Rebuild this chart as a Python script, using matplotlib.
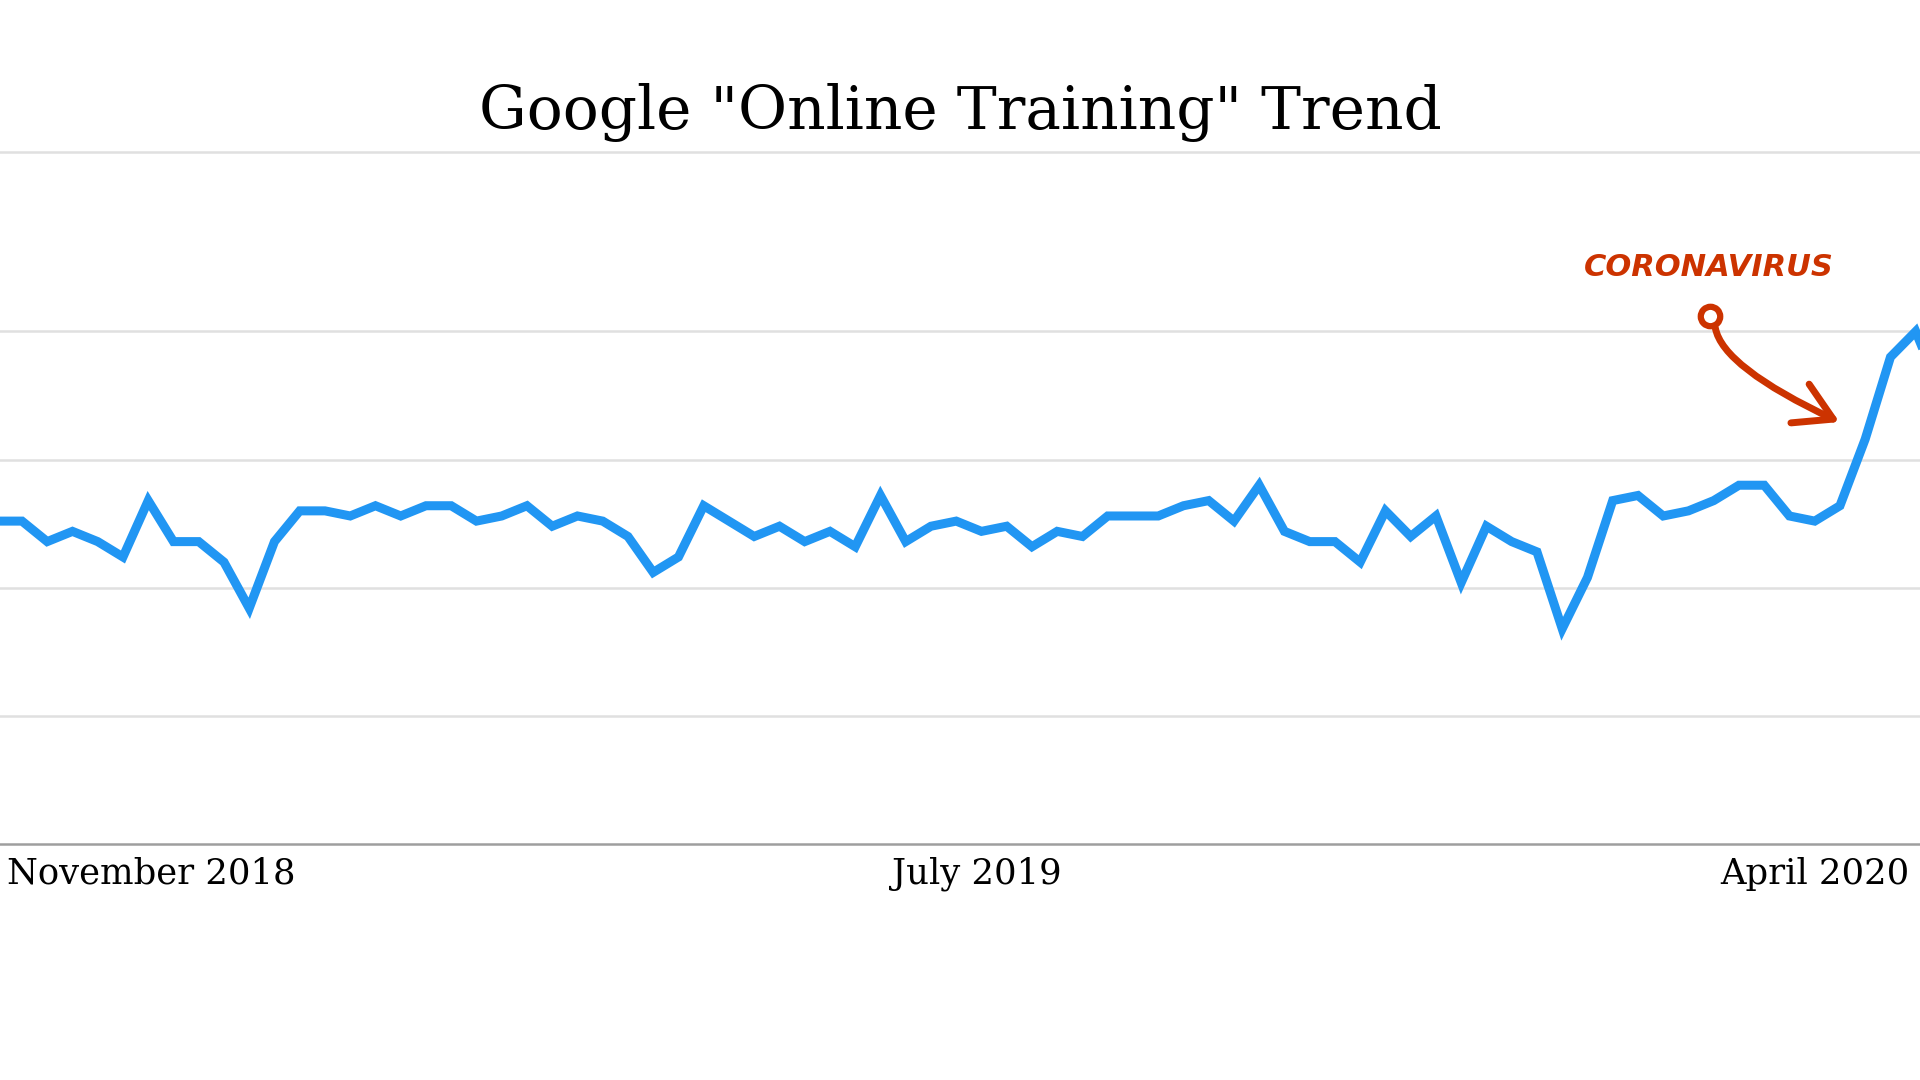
import numpy as np
import matplotlib
matplotlib.use("Agg")
import matplotlib.pyplot as plt
from matplotlib.patches import FancyArrowPatch

# weekly google trends values
weeks = list(range(78))
interest = [63, 63, 59, 61, 59, 56, 67, 59, 59, 55,
            46, 59, 65, 65, 64, 66, 64, 66, 66, 63,
            64, 66, 62, 64, 63, 60, 53, 56, 66, 63,
            60, 62, 59, 61, 58, 68, 59, 62, 63, 61,
            62, 58, 61, 60, 64, 64, 64, 66, 67, 63,
            70, 61, 59, 59, 55, 65, 60, 64, 51, 62,
            59, 57, 42, 52, 67, 68, 64, 65, 67, 70,
            70, 64, 63, 66, 79, 95, 100, 88]

tick_pos = [0.4, 38.8, 72.0]
tick_labels = ["November 2018", "July 2019", "April 2020"]
grid_vals = [25, 50, 75, 100]

fig = plt.figure(figsize=(19.2, 10.8), dpi=100)
ax = fig.add_axes([0, 0.2185, 1, 0.6407])

ax.plot(weeks, interest, color="#2196f3", linewidth=6.5, solid_joinstyle="miter", zorder=3)

for g in grid_vals:
    ax.axhline(g, color="#e0e0e0", linewidth=1.8, zorder=1)

ax.set_xlim(0.13, 76.17)
ax.set_ylim(0, 135)
ax.set_yticks([])
ax.set_xticks(tick_pos)
ax.set_xticklabels(tick_labels, fontsize=25.5, family="DejaVu Serif")
ax.get_xticklabels()[0].set_horizontalalignment("left")
ax.tick_params(axis="x", length=0, pad=9)

for s in ["left", "right"]:
    ax.spines[s].set_visible(False)
ax.spines["top"].set_color("#e0e0e0")
ax.spines["top"].set_linewidth(1.8)
ax.spines["bottom"].set_color("#9e9e9e")
ax.spines["bottom"].set_linewidth(1.8)

fig.text(0.5, 0.896, 'Google "Online Training" Trend', ha="center", va="center",
         fontsize=43, family="DejaVu Serif", color="black")

# annotation
red = "#cc3300"
ax.text(67.8, 112.5, "CORONAVIRUS", ha="center", va="center", color=red,
        fontsize=22, fontweight="bold", fontstyle="italic", family="DejaVu Sans")
ax.plot([67.86], [103.1], marker="o", markersize=14, markerfacecolor="white",
        markeredgecolor=red, markeredgewidth=4.5, zorder=4)
arr = FancyArrowPatch((68.05, 101.2), (73.08, 82.1),
                      connectionstyle="angle3,angleA=-85,angleB=155",
                      arrowstyle="->,head_length=1.2,head_width=0.7",
                      mutation_scale=22, color=red, linewidth=5, zorder=4)
ax.add_patch(arr)

fig.savefig("out.png", dpi=100, facecolor="white")
